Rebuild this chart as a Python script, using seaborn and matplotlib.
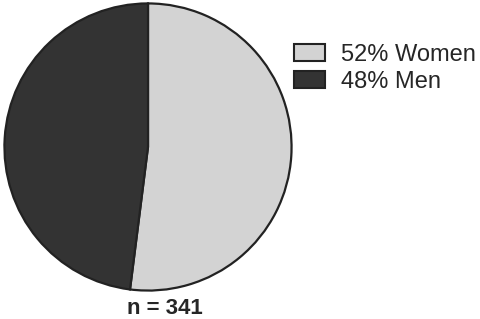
import matplotlib
matplotlib.use("Agg")
import matplotlib.pyplot as plt
from matplotlib.patches import Patch
import seaborn as sns

labels = ["52% Women", "48% Men"]
shares = [52, 48]
colors = ["#d3d3d3", "#333333"]
sample_note = "n = 341"

sns.set_style("white")
plt.rcParams["font.family"] = ["Liberation Sans", "DejaVu Sans"]

fig = plt.figure(figsize=(4.8, 3.19), dpi=100)
ax = fig.add_axes([2 / 480, 27 / 319, 292 / 480, 290 / 319])
ax.pie(shares, colors=colors, startangle=90, counterclock=False,
       wedgeprops={"edgecolor": "#222222", "linewidth": 1.6})
ax.set_aspect("equal")
ax.set_xlim(-1.015, 1.015)
ax.set_ylim(-1.01, 1.01)
ax.axis("off")

handles = [Patch(facecolor=c, edgecolor="#222222", linewidth=1.5) for c in colors]
fig.legend(handles, labels, loc="upper left", bbox_to_anchor=(294 / 480, 1 - 44 / 319),
           frameon=False, fontsize=17, handlelength=1.3, handleheight=0.72,
           handletextpad=0.7, labelspacing=0.2, borderaxespad=0, borderpad=0)

fig.text(165 / 480, 5 / 319, sample_note, ha="center", va="baseline",
         fontsize=16, fontweight="bold")

fig.savefig("out.png", dpi=100)
